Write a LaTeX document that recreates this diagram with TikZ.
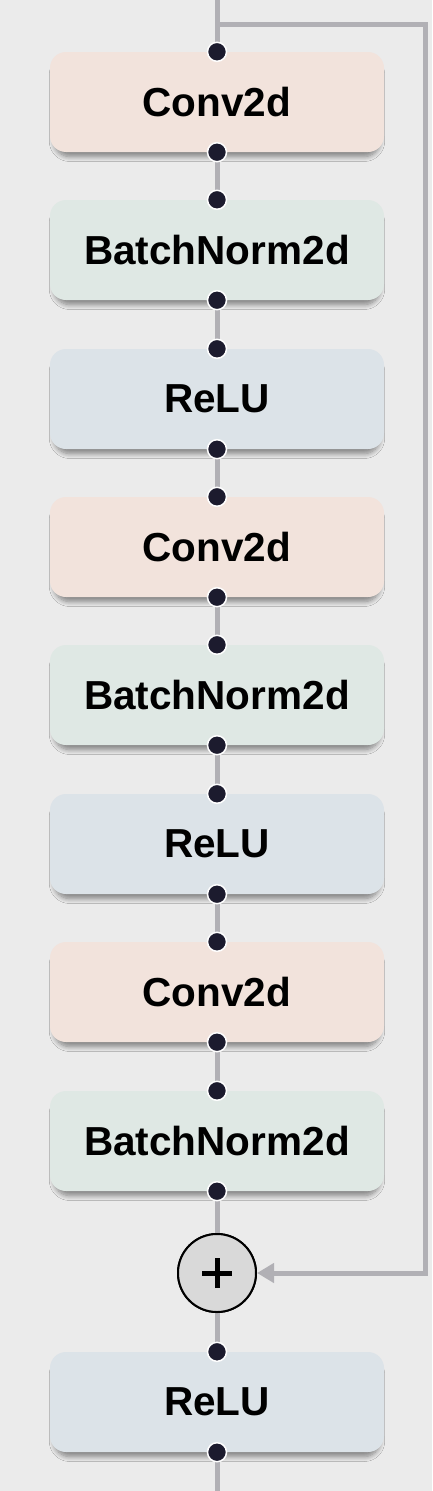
\documentclass[tikz,border=0pt]{standalone}
\usepackage{fontspec}
\setmainfont{Liberation Sans}
\usetikzlibrary{shadows.blur,arrows.meta}
\definecolor{bgc}{HTML}{EBEBEB}
\definecolor{convc}{HTML}{F2E3DC}
\definecolor{bnc}{HTML}{DFE8E4}
\definecolor{reluc}{HTML}{DCE3E8}
\definecolor{wirec}{HTML}{B1B0B5}
\definecolor{dotc}{HTML}{1C1B2E}
\definecolor{plusc}{HTML}{D9D9D9}
\begin{document}
\begin{tikzpicture}[x=1pt,y=1pt,
  block/.style={rounded corners=16pt, minimum width=334pt, minimum height=100pt, inner sep=0pt,
    font=\fontsize{40.5}{46}\selectfont\bfseries, text=black,
    blur shadow={shadow xshift=0pt, shadow yshift=-6pt, shadow scale=0.975, shadow blur radius=5pt, shadow blur steps=10, shadow opacity=45}},
  conv/.style={block, fill=convc},
  bn/.style={block, fill=bnc},
  relu/.style={block, fill=reluc},
  wire/.style={draw=wirec, line width=5pt},
  port/.style={circle, fill=dotc, draw=white, line width=1.5pt, minimum size=19pt, inner sep=0pt},
  adder/.style={circle, fill=plusc, draw=black, line width=2pt, minimum size=78pt, inner sep=0pt}
]
\fill[bgc] (0,0) rectangle (432,-1491);
\useasboundingbox (0,0) rectangle (432,-1491);

\node[conv] (c1) at (217,-102) {Conv2d};
\node[bn]   (b1) at (217,-250) {BatchNorm2d};
\node[relu] (r1) at (217,-399) {ReLU};
\node[conv] (c2) at (217,-547) {Conv2d};
\node[bn]   (b2) at (217,-695) {BatchNorm2d};
\node[relu] (r2) at (217,-844) {ReLU};
\node[conv] (c3) at (217,-992) {Conv2d};
\node[bn]   (b3) at (217,-1141) {BatchNorm2d};
\node[adder] (add) at (217,-1273) {};
\node[relu] (r4) at (217,-1402) {ReLU};

\coordinate (top) at (217,0);
\coordinate (branch) at (217,-24);
\coordinate (skipA) at (425,-24);
\coordinate (skipB) at (425,-1273);
\coordinate (bottom) at (217,-1491);

% wires
\draw[wire] (top) -- (c1.north);
\draw[wire] (c1.south) -- (b1.north);
\draw[wire] (b1.south) -- (r1.north);
\draw[wire] (r1.south) -- (c2.north);
\draw[wire] (c2.south) -- (b2.north);
\draw[wire] (b2.south) -- (r2.north);
\draw[wire] (r2.south) -- (c3.north);
\draw[wire] (c3.south) -- (b3.north);
\draw[wire] (b3.south) -- (add.north);
\draw[wire] (add.south) -- (r4.north);
\draw[wire] (r4.south) -- (bottom);
\draw[wire, miter limit=10, -{Triangle[length=17pt,width=19pt]}] (branch) -- (skipA) -- (skipB) -- (add.east);

% adder redraw on top and plus sign
\node[adder] at (add.center) {};
\draw[line width=5pt] ([xshift=-15pt]add.center) -- ([xshift=15pt]add.center);
\draw[line width=5pt] ([yshift=-15pt]add.center) -- ([yshift=15pt]add.center);

% ports
\foreach \n in {c1,b1,r1,c2,b2,r2,c3,b3,r4}{
  \node[port] (\n t) at (\n.north) {};
  \node[port] (\n b) at (\n.south) {};
}
\end{tikzpicture}
\end{document}
